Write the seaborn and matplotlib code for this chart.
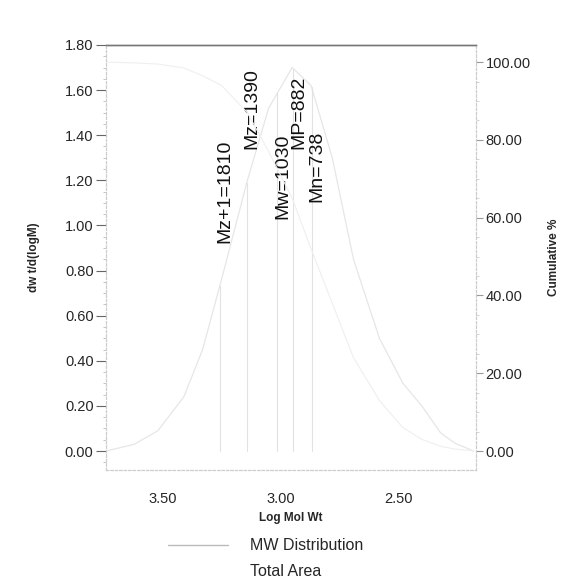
import matplotlib
matplotlib.use("Agg")
import matplotlib.pyplot as plt
import seaborn as sns
import pandas as pd
import numpy as np
from matplotlib.ticker import MultipleLocator

# MW distribution (log M vs dwt/d(logM))
log_mw = [3.74, 3.62, 3.52, 3.41, 3.33, 3.25, 3.14, 3.05, 2.95, 2.87, 2.78,
          2.69, 2.58, 2.48, 2.40, 2.32, 2.26, 2.18]
dwt = [0.00, 0.03, 0.09, 0.24, 0.45, 0.76, 1.20, 1.52, 1.70, 1.62, 1.30,
       0.85, 0.50, 0.30, 0.20, 0.08, 0.035, 0.00]
# cumulative % (right axis)
cum_pct = [100.0, 99.8, 99.5, 98.5, 96.5, 94.0, 87.0, 77.0, 65.0, 52.0, 38.0,
           24.0, 13.0, 6.0, 3.0, 1.2, 0.5, 0.0]

# averages marked on the curve
avg_names = ["Mz+1", "Mz", "Mw", "MP", "Mn"]
avg_values = [1810, 1390, 1030, 882, 738]
label_y = [1.15, 1.52, 1.22, 1.50, 1.26]

left_ticks = [0.00, 0.20, 0.40, 0.60, 0.80, 1.00, 1.20, 1.40, 1.60, 1.80]
right_ticks = [0.0, 20.0, 40.0, 60.0, 80.0, 100.0]
x_ticks = [3.50, 3.00, 2.50]

df = pd.DataFrame({"logM": log_mw, "dwt": dwt, "cum": cum_pct})

sns.set_style("white")
plt.rcParams["font.family"] = ["Liberation Sans", "DejaVu Sans"]

fig = plt.figure(figsize=(5.69, 5.85), dpi=100)
ax = fig.add_axes([0.1863, 0.1966, 0.6503, 0.7265])
ax2 = ax.twinx()

# the scanned curves are barely visible, so keep them very pale
sns.lineplot(data=df, x="logM", y="dwt", ax=ax, color="#e6e6e6", linewidth=0.9,
             sort=False, estimator=None)
sns.lineplot(data=df, x="logM", y="cum", ax=ax2, color="#efefef", linewidth=0.8,
             sort=False, estimator=None)

# vertical markers for the averages
for name, mval, ly in zip(avg_names, avg_values, label_y):
    lx = np.log10(mval)
    top = np.interp(-lx, [-v for v in log_mw], dwt)
    ax.plot([lx, lx], [0, top], color="#e2e2e2", linewidth=0.8)
    ax.text(lx - 0.022, ly, f"{name}={mval}", rotation=90, ha="center",
            va="center", fontsize=14, color="#111111")

ax.set_xlim(3.74, 2.17)
ax.set_ylim(-0.084, 1.80)
ax2.set_ylim(-4.88, 104.4)

ax.set_xticks(x_ticks)
ax.set_xticklabels([f"{t:.2f}" for t in x_ticks])
ax.set_yticks(left_ticks)
ax.set_yticklabels([f"{t:.2f}" for t in left_ticks])
ax.yaxis.set_minor_locator(MultipleLocator(0.05))
ax2.set_yticks(right_ticks)
ax2.set_yticklabels([f"{t:.2f}" for t in right_ticks])
ax2.yaxis.set_minor_locator(MultipleLocator(5))

ax.tick_params(axis="y", which="major", direction="out", length=7, width=0.8,
               color="#666666", labelsize=10.5, pad=2)
ax.tick_params(axis="y", which="minor", direction="out", length=2, width=0.6,
               color="#bbbbbb")
ax.tick_params(axis="x", which="major", length=0, labelsize=10.5, pad=16)
ax2.tick_params(axis="y", which="major", direction="out", length=5, width=0.8,
                color="#999999", labelsize=10.5, pad=2)
ax2.tick_params(axis="y", which="minor", direction="out", length=2, width=0.6,
                color="#cccccc")

ax.set_xlabel("Log Mol Wt", fontsize=8.5, fontweight="bold", labelpad=4)
ax.set_ylabel("dw t/d(logM)", fontsize=8.5, fontweight="bold", labelpad=18)
ax2.set_ylabel("Cumulative %", fontsize=8.5, fontweight="bold", labelpad=12)
ax2.set_xlabel("")

for a in (ax, ax2):
    a.grid(False)
    a.spines["top"].set_color("#777777")
    a.spines["top"].set_linewidth(1.0)
    for s in ("left", "right", "bottom"):
        a.spines[s].set_color("#cccccc")
        a.spines[s].set_linewidth(0.8)
        a.spines[s].set_linestyle((0, (2, 2)))

# legend below the plot
fig.lines.append(plt.Line2D([168 / 569, 228 / 569], [1 - 545 / 585] * 2,
                            transform=fig.transFigure, color="#bbbbbb",
                            linewidth=1.0))
fig.text(250 / 569, 1 - 546 / 585, "MW Distribution", fontsize=11.5,
         va="center", ha="left")
fig.text(250 / 569, 1 - 572 / 585, "Total Area", fontsize=11.5,
         va="center", ha="left")

fig.savefig("out.png", dpi=100, facecolor="white")
